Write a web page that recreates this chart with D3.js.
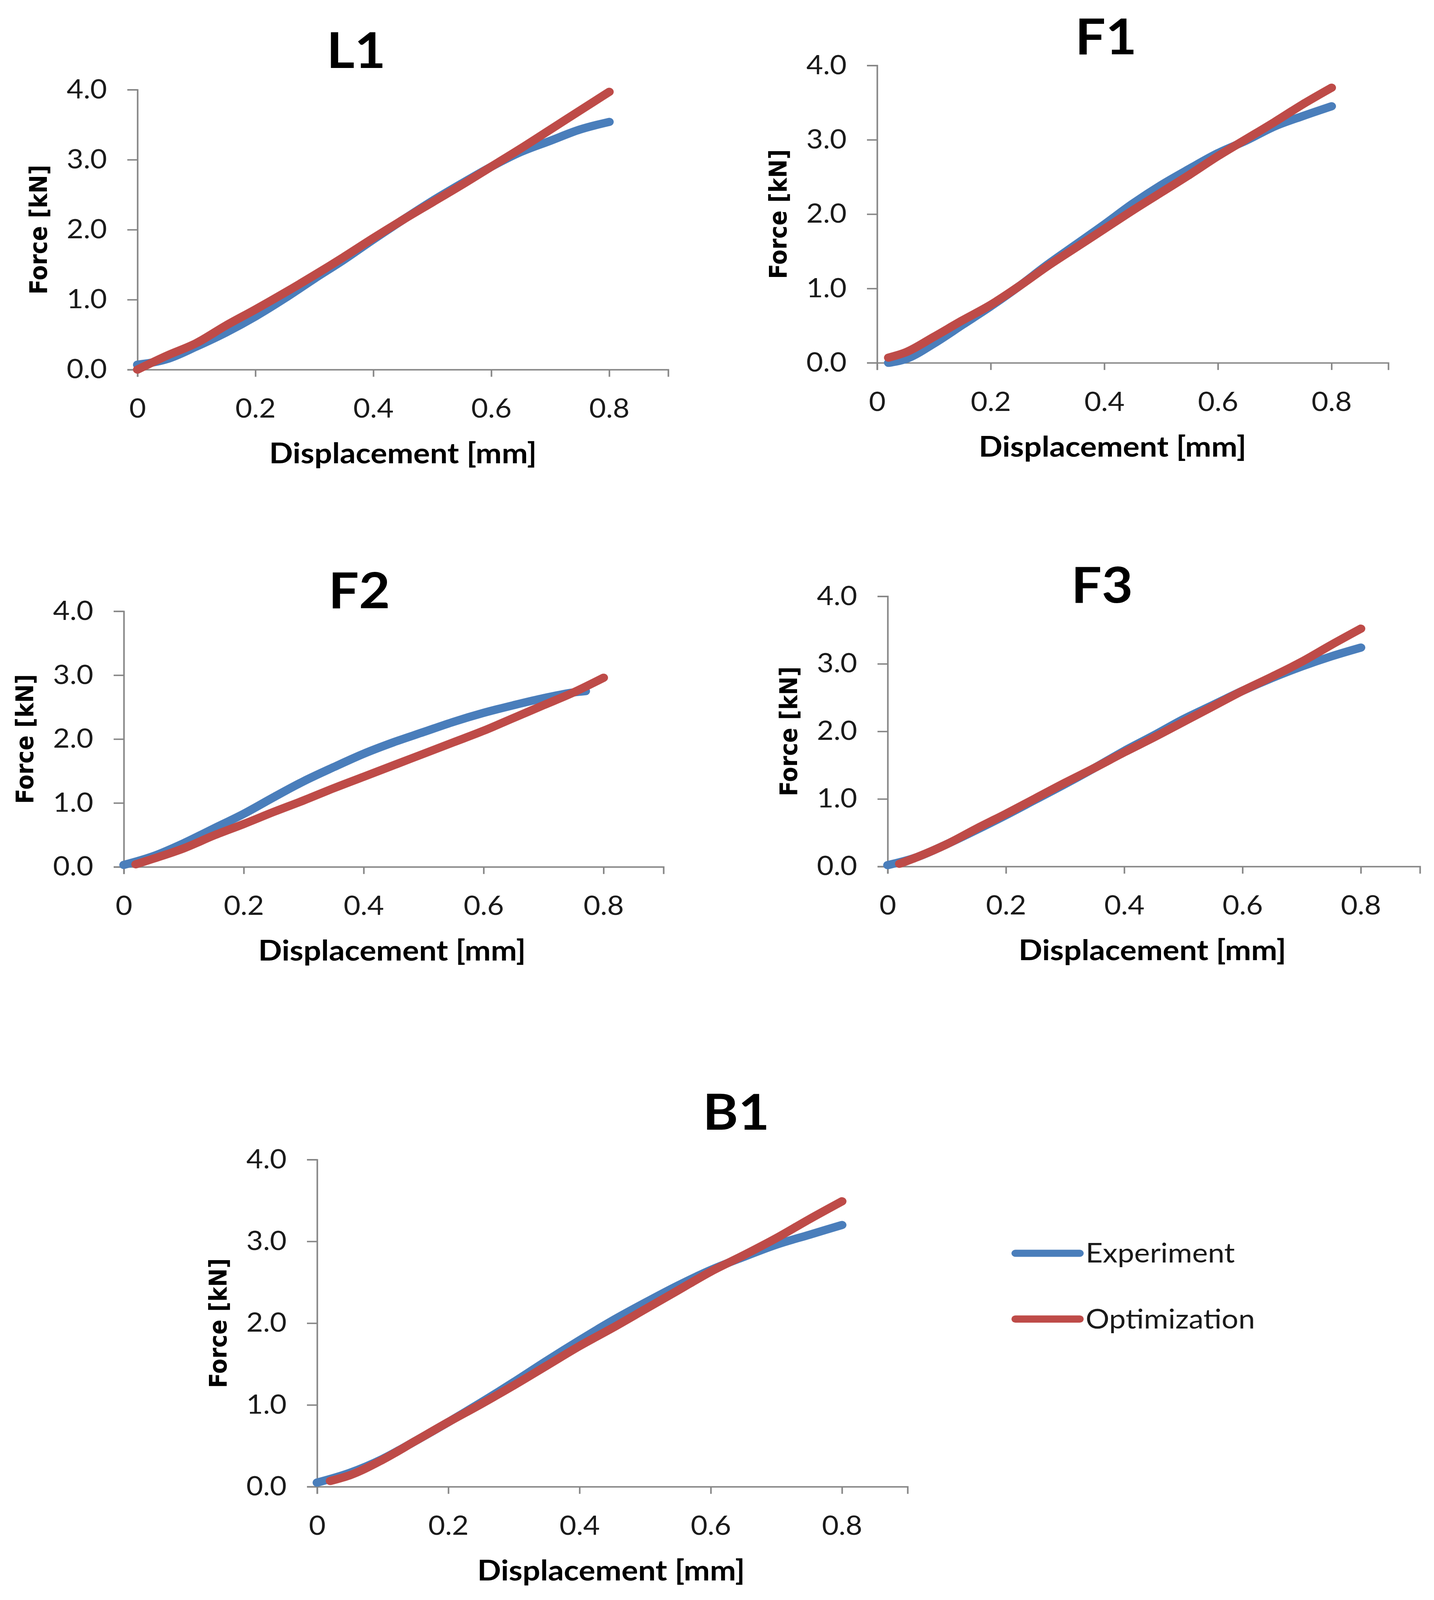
<!DOCTYPE html>
<html>
<head>
<meta charset="utf-8">
<script src="https://cdn.jsdelivr.net/npm/d3@7"></script>
<style>
  html, body { margin: 0; padding: 0; background: #fff; overflow: hidden; }
  svg { display: block; }
</style>
</head>
<body>
<div id="chart"></div>
<script>
// displacement grids [mm]
var dispFromZero = [0, 0.05, 0.10, 0.15, 0.20, 0.25, 0.30, 0.35, 0.40, 0.45, 0.50, 0.55, 0.60, 0.65, 0.70, 0.75, 0.80];
var dispFromLate = [0.02, 0.05, 0.10, 0.15, 0.20, 0.25, 0.30, 0.35, 0.40, 0.45, 0.50, 0.55, 0.60, 0.65, 0.70, 0.75, 0.80];
var dispF2Exp    = [0, 0.05, 0.10, 0.15, 0.20, 0.25, 0.30, 0.35, 0.40, 0.45, 0.50, 0.55, 0.60, 0.65, 0.70, 0.75, 0.77];

// force [kN]
var l1Exp = [0.07, 0.15, 0.33, 0.53, 0.76, 1.02, 1.30, 1.57, 1.86, 2.14, 2.41, 2.66, 2.90, 3.11, 3.27, 3.43, 3.54];
var l1Opt = [0.00, 0.20, 0.38, 0.63, 0.86, 1.10, 1.35, 1.61, 1.88, 2.14, 2.39, 2.64, 2.90, 3.16, 3.43, 3.70, 3.97];
var f1Exp = [0.00, 0.05, 0.26, 0.51, 0.76, 1.03, 1.32, 1.59, 1.86, 2.14, 2.39, 2.61, 2.82, 2.99, 3.18, 3.32, 3.45];
var f1Opt = [0.07, 0.14, 0.35, 0.57, 0.78, 1.03, 1.30, 1.55, 1.80, 2.05, 2.29, 2.53, 2.78, 3.01, 3.24, 3.48, 3.70];
var f2Exp = [0.03, 0.17, 0.37, 0.60, 0.83, 1.09, 1.34, 1.56, 1.77, 1.95, 2.11, 2.27, 2.41, 2.53, 2.64, 2.73, 2.75];
var f2Opt = [0.04, 0.13, 0.29, 0.49, 0.67, 0.86, 1.04, 1.23, 1.41, 1.59, 1.77, 1.95, 2.13, 2.33, 2.53, 2.73, 2.96];
var f3Exp = [0.02, 0.14, 0.33, 0.54, 0.76, 0.99, 1.22, 1.46, 1.71, 1.94, 2.18, 2.39, 2.60, 2.79, 2.96, 3.11, 3.24];
var f3Opt = [0.04, 0.14, 0.33, 0.56, 0.78, 1.01, 1.24, 1.46, 1.69, 1.91, 2.14, 2.37, 2.60, 2.81, 3.03, 3.28, 3.52];
var b1Exp = [0.05, 0.17, 0.34, 0.56, 0.79, 1.03, 1.28, 1.54, 1.79, 2.03, 2.25, 2.46, 2.65, 2.81, 2.96, 3.08, 3.20];
var b1Opt = [0.07, 0.14, 0.33, 0.56, 0.79, 1.01, 1.24, 1.48, 1.72, 1.94, 2.17, 2.40, 2.63, 2.83, 3.04, 3.27, 3.49];

var xTicks = [0, 0.2, 0.4, 0.6, 0.8];
var yTicks = [0, 1, 2, 3, 4];
var seriesNames = ["Experiment", "Optimization"];
var seriesColors = ["#4a7ebb", "#be4b48"];

var W = 3672, H = 4476;
var mainFont = 'Lato, "Open Sans", sans-serif';

// panel layout in page pixels
var panels = [
	{ title: "L1", dx: [dispFromZero, dispFromZero], f: [l1Exp, l1Opt],
	  x0: 352, x1: 1711, y0: 1034, y1: 251, tx: 912, ty: 190, xtx: 1032 },
	{ title: "F1", dx: [dispFromLate, dispFromLate], f: [f1Exp, f1Opt],
	  x0: 2246, x1: 3555, y0: 1015, y1: 183, tx: 2832, ty: 152, xtx: 2849 },
	{ title: "F2", dx: [dispF2Exp, dispFromLate], f: [f2Exp, f2Opt],
	  x0: 317, x1: 1699, y0: 2425, y1: 1710, tx: 920, ty: 1702, xtx: 1004 },
	{ title: "F3", dx: [dispFromZero, dispFromLate], f: [f3Exp, f3Opt],
	  x0: 2273, x1: 3636, y0: 2424, y1: 1668, tx: 2822, ty: 1686, xtx: 2951 },
	{ title: "B1", dx: [dispFromZero, dispFromLate], f: [b1Exp, b1Opt],
	  x0: 812, x1: 2324, y0: 4159, y1: 3244, tx: 1885, ty: 3160, xtx: 1565 }
];

// fit the whole figure into whatever viewport we get
var vw = window.innerWidth || W, vh = window.innerHeight || H;
var svg = d3.select("#chart").append("svg")
	.attr("width", vw)
	.attr("height", vh)
	.attr("viewBox", "0 0 " + W + " " + H)
	.attr("preserveAspectRatio", "none");

svg.append("rect").attr("width", W).attr("height", H).attr("fill", "#fff");

panels.forEach(function (p) {
	var x = d3.scaleLinear().domain([0, 0.9]).range([p.x0, p.x1]);
	var y = d3.scaleLinear().domain([0, 4]).range([p.y0, p.y1]);
	var g = svg.append("g");

	var yAxis = g.append("g")
		.attr("transform", "translate(" + p.x0 + ",0)")
		.call(d3.axisLeft(y).tickValues(yTicks).tickFormat(d3.format(".1f"))
			.tickSizeOuter(0).tickSize(26).tickPadding(52));
	var xAxis = g.append("g")
		.attr("transform", "translate(0," + p.y0 + ")")
		.call(d3.axisBottom(x).tickValues(xTicks)
			.tickFormat(function (d) { return d === 0 ? "0" : d3.format(".1f")(d); })
			.tickSizeOuter(0).tickSize(20).tickPadding(62));

	[yAxis, xAxis].forEach(function (ax) {
		ax.select(".domain").attr("stroke", "#868686").attr("stroke-width", 4);
		ax.selectAll(".tick line").attr("stroke", "#868686").attr("stroke-width", 4);
		ax.selectAll(".tick text")
			.attr("fill", "#1a1a1a")
			.style("font-family", mainFont)
			.style("font-size", "74px");
	});

	var line = d3.line()
		.x(function (d) { return x(d[0]); })
		.y(function (d) { return y(d[1]); })
		.curve(d3.curveMonotoneX);

	seriesNames.forEach(function (name, i) {
		var pts = p.dx[i].map(function (v, k) { return [v, p.f[i][k]]; });
		g.append("path")
			.datum(pts)
			.attr("d", line)
			.attr("fill", "none")
			.attr("stroke", seriesColors[i])
			.attr("stroke-width", 23)
			.attr("stroke-linecap", "round")
			.attr("stroke-linejoin", "round");
	});

	g.append("text")
		.attr("x", p.tx).attr("y", p.ty)
		.attr("text-anchor", "middle")
		.style("font-family", mainFont)
		.style("font-weight", "bold")
		.style("font-size", "138px")
		.text(p.title);

	g.append("text")
		.attr("x", p.xtx).attr("y", p.y0 + 262)
		.attr("text-anchor", "middle")
		.style("font-family", mainFont)
		.style("font-weight", "bold")
		.style("font-size", "80px")
		.text("Displacement [mm]");

	g.append("text")
		.attr("transform", "translate(" + (p.x0 - 232) + "," + ((p.y0 + p.y1) / 2) + ") rotate(-90)")
		.attr("text-anchor", "middle")
		.style("font-family", '"DejaVu Sans", sans-serif')
		.style("font-weight", "bold")
		.style("font-size", "62px")
		.text("Force [kN]");
});

// legend next to B1
var legend = svg.append("g").attr("transform", "translate(2600,3506)");
seriesNames.forEach(function (name, i) {
	var row = legend.append("g").attr("transform", "translate(0," + (i * 184) + ")");
	row.append("line")
		.attr("x1", 0).attr("x2", 165)
		.attr("stroke", seriesColors[i])
		.attr("stroke-width", 20)
		.attr("stroke-linecap", "round");
	row.append("text")
		.attr("x", 180).attr("y", 26)
		.style("font-family", mainFont)
		.style("font-size", "76px")
		.attr("fill", "#1a1a1a")
		.text(name);
});
</script>
</body>
</html>
